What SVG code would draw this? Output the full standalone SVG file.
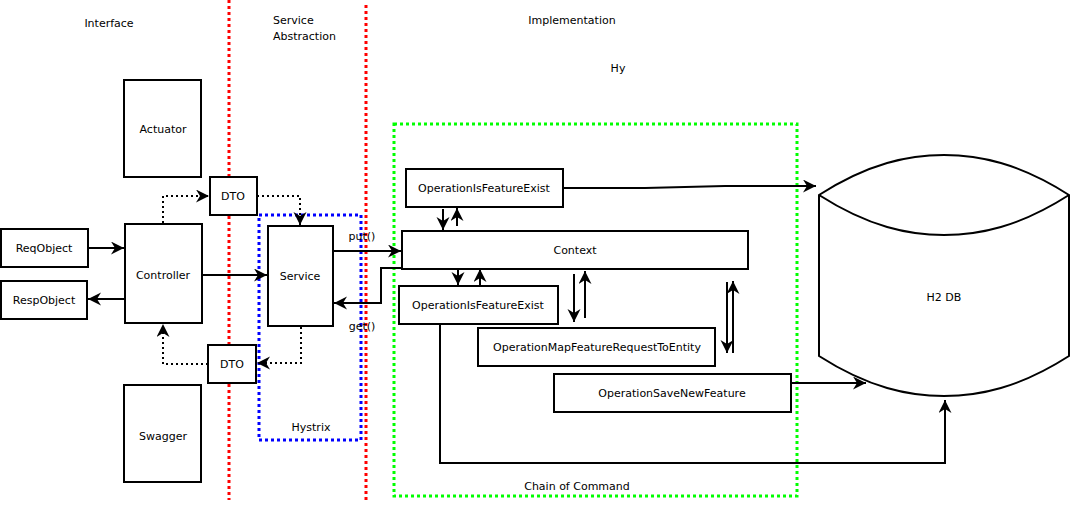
<svg xmlns="http://www.w3.org/2000/svg" width="1071" height="508" viewBox="0 0 1071 508">
<style>
text{font-family:"DejaVu Sans","Liberation Sans",sans-serif;font-size:11px;fill:#000;text-anchor:middle;dominant-baseline:central}
.lbl{text-anchor:start}
.box{fill:#fff;stroke:#000;stroke-width:2}
.c{fill:none;stroke:#000;stroke-width:2}
.d{fill:none;stroke:#000;stroke-width:2;stroke-dasharray:2 3}
.red{fill:none;stroke:#f00;stroke-width:3;stroke-dasharray:3 3}
.blue{fill:none;stroke:#00f;stroke-width:3;stroke-dasharray:3 3}
.green{fill:none;stroke:#0f0;stroke-width:3;stroke-dasharray:3 3}
</style>
<defs>
<marker id="ah" markerUnits="userSpaceOnUse" markerWidth="14" markerHeight="14" refX="13" refY="6.5" orient="auto">
<path d="M0,0 L13,6.5 L0,13 L4,6.5 z" fill="#000"/>
</marker>
</defs>
<rect width="1071" height="508" fill="#fff"/>

<g id="zones">
<line class="red" x1="229" y1="0" x2="229" y2="500"/>
<line class="red" x1="366" y1="5" x2="366" y2="503"/>
<rect id="hystrix" class="blue" x="259" y="215" width="102" height="225"/>
<rect id="chain" class="green" x="394" y="124" width="403" height="372"/>
</g>

<g id="labels">
<text x="109" y="23">Interface</text>
<text class="lbl" x="273" y="20">Service</text>
<text class="lbl" x="273" y="36">Abstraction</text>
<text x="572" y="20">Implementation</text>
<text x="618" y="68">Hy</text>
<text x="311" y="427">Hystrix</text>
<text x="577" y="486">Chain of Command</text>
<text x="362" y="236">put()</text>
<text x="362" y="326">get()</text>
</g>

<g id="connectors">
<path class="c" d="M88,248 H124" marker-end="url(#ah)"/>
<path class="c" d="M124,299 H88" marker-end="url(#ah)"/>
<path class="c" d="M202,275 H267" marker-end="url(#ah)"/>
<path class="d" d="M163,223 V196 H209" marker-end="url(#ah)"/>
<path class="d" d="M257,196 H300 V225" marker-end="url(#ah)"/>
<path class="d" d="M301,327 V363 H257" marker-end="url(#ah)"/>
<path class="d" d="M208,364 H163 V324" marker-end="url(#ah)"/>
<path class="c" d="M333,251 H401" marker-end="url(#ah)"/>
<path class="c" d="M402,268 H381 V303 H334" marker-end="url(#ah)"/>
<path class="c" d="M563,188 L645,188 L725,186 L816,186" marker-end="url(#ah)"/>
<path class="c" d="M443,209 V230" marker-end="url(#ah)"/>
<path class="c" d="M457,226 V208" marker-end="url(#ah)"/>
<path class="c" d="M458,269 V285" marker-end="url(#ah)"/>
<path class="c" d="M480,286 V269" marker-end="url(#ah)"/>
<path class="c" d="M574,274 V322" marker-end="url(#ah)"/>
<path class="c" d="M585,318 V271" marker-end="url(#ah)"/>
<path class="c" d="M727,282 V353" marker-end="url(#ah)"/>
<path class="c" d="M733,353 V281" marker-end="url(#ah)"/>
<path class="c" d="M792,383 H866" marker-end="url(#ah)"/>
<path class="c" d="M440,324 V463 H945 V400" marker-end="url(#ah)"/>
</g>

<g id="actuator"><rect class="box" x="124" y="80" width="77" height="97"/><text x="163" y="129">Actuator</text></g>
<g id="swagger"><rect class="box" x="124" y="385" width="77" height="97"/><text x="163" y="436">Swagger</text></g>
<g id="reqobject"><rect class="box" x="1" y="229" width="87" height="38"/><text x="44" y="248">ReqObject</text></g>
<g id="respobject"><rect class="box" x="1" y="281" width="86" height="38"/><text x="44" y="300">RespObject</text></g>
<g id="controller"><rect class="box" x="125" y="224" width="77" height="99"/><text x="163" y="275">Controller</text></g>
<g id="dto-top"><rect class="box" x="210" y="177" width="47" height="38"/><text x="233" y="196">DTO</text></g>
<g id="dto-bottom"><rect class="box" x="208" y="345" width="48" height="38"/><text x="232" y="364">DTO</text></g>
<g id="service"><rect class="box" x="268" y="226" width="65" height="100"/><text x="300" y="276">Service</text></g>
<g id="op-exist-1"><rect class="box" x="406" y="169" width="157" height="38"/><text x="484" y="188">OperationIsFeatureExist</text></g>
<g id="context"><rect class="box" x="402" y="231" width="346" height="38"/><text x="575" y="250">Context</text></g>
<g id="op-exist-2"><rect class="box" x="399" y="286" width="159" height="38"/><text x="478" y="305">OperationIsFeatureExist</text></g>
<g id="op-map"><rect class="box" x="478" y="328" width="237" height="38"/><text x="597" y="347">OperationMapFeatureRequestToEntity</text></g>
<g id="op-save"><rect class="box" x="554" y="374" width="237" height="38"/><text x="672" y="393">OperationSaveNewFeature</text></g>
<g id="h2db">
<path class="box" d="M819,195 C869,163 909,155 944,155 C979,155 1019,163 1069,195 V356 C1019,388 979,396 944,396 C909,396 869,388 819,356 Z"/>
<path class="c" d="M819,195 C869,227 909,235 944,235 C979,235 1019,227 1069,195"/>
<text x="944" y="297">H2 DB</text>
</g>
</svg>
